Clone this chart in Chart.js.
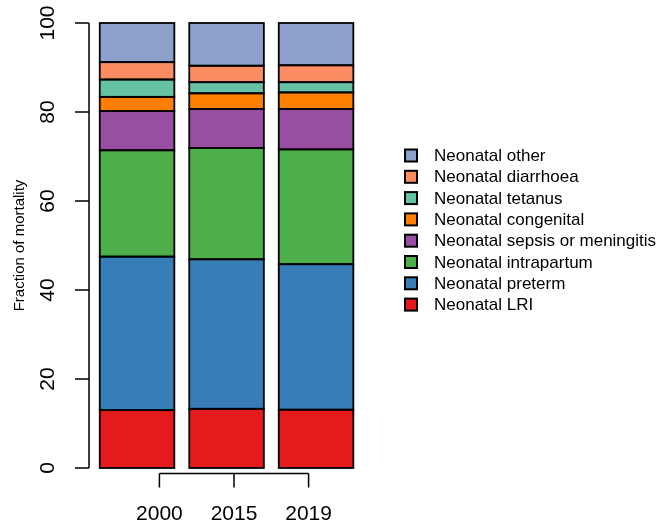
<!DOCTYPE html>
<html lang="en">
<head>
    <meta charset="UTF-8">
    <title>Neonatal mortality fractions</title>
    <style>
        html, body { margin: 0; padding: 0; background: #fff; }
        canvas { display: block; }
    </style>
</head>
<body>
    <canvas id="mortalityChart" width="665" height="531"></canvas>

    <script src="https://cdn.jsdelivr.net/npm/chart.js"></script>
    <script>
        const years = ['2000', '2015', '2019'];
        const causes = ['Neonatal LRI', 'Neonatal preterm', 'Neonatal intrapartum', 'Neonatal sepsis or meningitis',
                        'Neonatal congenital', 'Neonatal tetanus', 'Neonatal diarrhoea', 'Neonatal other'];
        const lri         = [13.0, 13.3, 13.1];
        const preterm     = [34.5, 33.6, 32.7];
        const intrapartum = [23.9, 25.0, 25.8];
        const sepsis      = [8.8, 8.8, 9.1];
        const congenital  = [3.2, 3.5, 3.7];
        const tetanus     = [3.9, 2.5, 2.3];
        const diarrhoea   = [3.9, 3.7, 3.8];
        const other       = [8.8, 9.6, 9.5];
        const yTicks = [0, 20, 40, 60, 80, 100];
        const xTickAt = [1, 2, 3];   // R axis() default positions

        const colors = ['#E41A1C', '#377EB8', '#4DAF4A', '#984EA3', '#FF7F00', '#66C2A5', '#FC8D62', '#8DA0CB'];
        const series = [lri, preterm, intrapartum, sepsis, congenital, tetanus, diarrhoea, other];
        const font = 'Arial, "Liberation Sans", sans-serif';

        // R style rect borders: centred on the segment edges
        const segmentBorders = {
            id: 'segmentBorders',
            afterDatasetsDraw(chart) {
                const ctx = chart.ctx;
                ctx.save();
                ctx.strokeStyle = '#000';
                ctx.lineWidth = 1.8;
                chart.data.datasets.forEach((d, i) => {
                    chart.getDatasetMeta(i).data.forEach(bar => {
                        const p = bar.getProps(['x', 'y', 'base', 'width'], true);
                        ctx.strokeRect(p.x - p.width / 2, p.y, p.width, p.base - p.y);
                    });
                });
                ctx.restore();
            }
        };

        // axes in R style + legend
        const baseAxes = {
            id: 'baseAxes',
            afterDraw(chart) {
                const ctx = chart.ctx;
                const y = chart.scales.y;
                const x2 = chart.scales.x2;
                const area = chart.chartArea;
                ctx.save();
                ctx.strokeStyle = '#000';
                ctx.fillStyle = '#000';
                ctx.lineWidth = 1.5;

                // y axis
                const ax = 89;
                ctx.beginPath();
                ctx.moveTo(ax, y.getPixelForValue(yTicks[0]));
                ctx.lineTo(ax, y.getPixelForValue(yTicks[yTicks.length - 1]));
                yTicks.forEach(v => {
                    const py = y.getPixelForValue(v);
                    ctx.moveTo(ax, py);
                    ctx.lineTo(ax - 14, py);
                });
                ctx.stroke();
                ctx.font = '21px ' + font;
                ctx.textAlign = 'center';
                ctx.textBaseline = 'middle';
                yTicks.forEach(v => {
                    const py = y.getPixelForValue(v);
                    ctx.save();
                    ctx.translate(48.5, py);
                    ctx.rotate(-Math.PI / 2);
                    ctx.fillText(String(v), 0, 0);
                    ctx.restore();
                });

                // y title
                ctx.save();
                ctx.font = '15px ' + font;
                ctx.translate(20, (area.top + area.bottom) / 2);
                ctx.rotate(-Math.PI / 2);
                ctx.fillText('Fraction of mortality', 0, 0);
                ctx.restore();

                // x axis
                const ly = area.bottom + 5.5;
                ctx.beginPath();
                ctx.moveTo(x2.getPixelForValue(xTickAt[0]), ly);
                ctx.lineTo(x2.getPixelForValue(xTickAt[xTickAt.length - 1]), ly);
                xTickAt.forEach(v => {
                    const px = x2.getPixelForValue(v);
                    ctx.moveTo(px, ly);
                    ctx.lineTo(px, ly + 14);
                });
                ctx.stroke();
                ctx.font = '21px ' + font;
                xTickAt.forEach((v, i) => {
                    ctx.fillText(years[i], x2.getPixelForValue(v), ly + 41);
                });

                // legend, top layer first
                ctx.font = '17px ' + font;
                ctx.textAlign = 'left';
                const lx = 405, ly0 = 155.5, step = 21.3;
                const ds = chart.data.datasets.slice().reverse();
                ds.forEach((d, i) => {
                    const cy = ly0 + i * step;
                    ctx.fillStyle = d.backgroundColor;
                    ctx.fillRect(lx, cy - 6, 12, 12);
                    ctx.lineWidth = 2;
                    ctx.strokeRect(lx, cy - 6, 12, 12);
                    ctx.fillStyle = '#000';
                    ctx.fillText(d.label, lx + 29, cy + 1);
                });
                ctx.restore();
            }
        };

        new Chart(document.getElementById('mortalityChart'), {
            type: 'bar',
            data: {
                labels: years,
                datasets: series.map((vals, i) => ({
                    label: causes[i],
                    data: vals,
                    backgroundColor: colors[i],
                    borderWidth: 0,
                    barPercentage: 1 / 1.2,
                    categoryPercentage: 1
                }))
            },
            options: {
                responsive: false,
                animation: false,
                layout: { padding: { left: 92.3, right: 304.2, top: 23, bottom: 63 } },
                plugins: { legend: { display: false }, tooltip: { enabled: false } },
                scales: {
                    x: { stacked: true, display: false },
                    x2: { type: 'linear', display: false, offset: false, min: 0.1, max: 3.7 },
                    y: { stacked: true, display: false, min: 0, max: 100 }
                }
            },
            plugins: [segmentBorders, baseAxes]
        });
    </script>
</body>
</html>
